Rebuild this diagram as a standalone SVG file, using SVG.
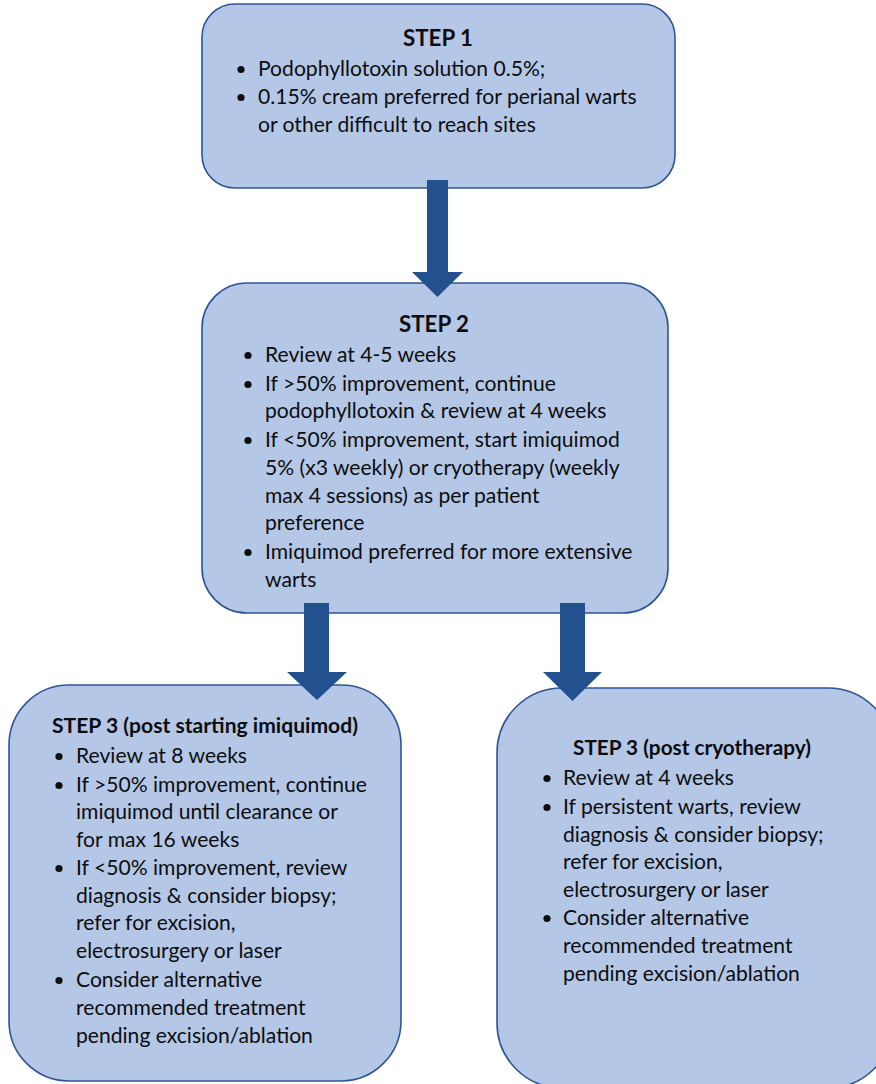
<svg xmlns="http://www.w3.org/2000/svg" width="876" height="1084" viewBox="0 0 876 1084">
<style>
.box{fill:#b4c7e7;stroke:#2f5597;stroke-width:1.6}
.t{font-family:Lato,"Open Sans","Liberation Sans",sans-serif;font-size:21.1px;fill:#0d0d0d}
.h{font-family:Lato,"Open Sans","Liberation Sans",sans-serif;font-weight:bold;font-size:22.5px;fill:#0d0d0d}
.h3{font-family:Lato,"Open Sans","Liberation Sans",sans-serif;font-weight:bold;font-size:20px;fill:#0d0d0d}
.b{fill:#0d0d0d}
.arr{fill:#23508e}
</style>
<rect width="876" height="1084" fill="#ffffff"/>
<g id="step1">
<rect class="box" x="202" y="4" width="473" height="184" rx="33"/>
<text class="h" x="403" y="46" textLength="70" lengthAdjust="spacingAndGlyphs">STEP 1</text>
<circle class="b" cx="241" cy="69.5" r="3.6"/>
<text class="t" x="258" y="76">Podophyllotoxin solution 0.5%;</text>
<circle class="b" cx="241" cy="97.5" r="3.6"/>
<text class="t" x="258" y="104">0.15% cream preferred for perianal warts</text>
<text class="t" x="258" y="132">or other difficult to reach sites</text>
</g>
<g id="step2">
<rect class="box" x="202" y="283" width="466" height="330" rx="45"/>
<text class="h" x="399" y="332" textLength="70" lengthAdjust="spacingAndGlyphs">STEP 2</text>
<circle class="b" cx="248" cy="355.5" r="3.6"/>
<text class="t" x="265" y="362">Review at 4-5 weeks</text>
<circle class="b" cx="248" cy="384.5" r="3.6"/>
<text class="t" x="265" y="391">If &gt;50% improvement, continue</text>
<text class="t" x="265" y="418">podophyllotoxin &amp; review at 4 weeks</text>
<circle class="b" cx="248" cy="440.5" r="3.6"/>
<text class="t" x="265" y="447">If &lt;50% improvement, start imiquimod</text>
<text class="t" x="265" y="475">5% (x3 weekly) or cryotherapy (weekly</text>
<text class="t" x="265" y="503">max 4 sessions) as per patient</text>
<text class="t" x="265" y="530">preference</text>
<circle class="b" cx="248" cy="552.5" r="3.6"/>
<text class="t" x="265" y="559">Imiquimod preferred for more extensive</text>
<text class="t" x="265" y="587">warts</text>
</g>
<g id="step3-imiquimod">
<rect class="box" x="9" y="685" width="392" height="396" rx="60"/>
<text class="h3" x="52" y="733" textLength="306" lengthAdjust="spacingAndGlyphs">STEP 3 (post starting imiquimod)</text>
<circle class="b" cx="59" cy="756.5" r="3.6"/>
<text class="t" x="76" y="763">Review at 8 weeks</text>
<circle class="b" cx="59" cy="785.5" r="3.6"/>
<text class="t" x="76" y="792">If &gt;50% improvement, continue</text>
<text class="t" x="76" y="819">imiquimod until clearance or</text>
<text class="t" x="76" y="847">for max 16 weeks</text>
<circle class="b" cx="59" cy="868.5" r="3.6"/>
<text class="t" x="76" y="875">If &lt;50% improvement, review</text>
<text class="t" x="76" y="903">diagnosis &amp; consider biopsy;</text>
<text class="t" x="76" y="930">refer for excision,</text>
<text class="t" x="76" y="958">electrosurgery or laser</text>
<circle class="b" cx="59" cy="980.5" r="3.6"/>
<text class="t" x="76" y="987">Consider alternative</text>
<text class="t" x="76" y="1015">recommended treatment</text>
<text class="t" x="76" y="1043">pending excision/ablation</text>
</g>
<g id="step3-cryotherapy">
<rect class="box" x="497" y="688" width="396" height="400" rx="65"/>
<text class="h3" x="573" y="755" textLength="238" lengthAdjust="spacingAndGlyphs">STEP 3 (post cryotherapy)</text>
<circle class="b" cx="547" cy="778.5" r="3.6"/>
<text class="t" x="563" y="785">Review at 4 weeks</text>
<circle class="b" cx="547" cy="807.5" r="3.6"/>
<text class="t" x="563" y="814">If persistent warts, review</text>
<text class="t" x="563" y="842">diagnosis &amp; consider biopsy;</text>
<text class="t" x="563" y="869">refer for excision,</text>
<text class="t" x="563" y="897">electrosurgery or laser</text>
<circle class="b" cx="547" cy="918.5" r="3.6"/>
<text class="t" x="563" y="925">Consider alternative</text>
<text class="t" x="563" y="953">recommended treatment</text>
<text class="t" x="563" y="981">pending excision/ablation</text>
</g>
<g id="connectors">
<polygon class="arr" points="427,180 448,180 448,272 463,272 437.5,297 412,272 427,272"/>
<polygon class="arr" points="304,603 329,603 329,672 347,672 317,700 287,672 304,672"/>
<polygon class="arr" points="560,603 585,603 585,672 602,672 572.5,701 543,672 560,672"/>
</g>
</svg>
